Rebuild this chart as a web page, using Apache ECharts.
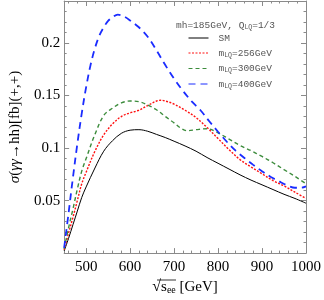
<!DOCTYPE html>
<html><head><meta charset="utf-8">
<script src="https://cdn.jsdelivr.net/npm/echarts@6/dist/echarts.min.js"></script>
<style>html,body{margin:0;padding:0;background:#fff}#c{width:324px;height:300px}</style>
</head><body><div id="c"></div>
<script>
// ---- data ----
const smX  = [450,460,470,480,490,500,520,540,560,580,600,620,640,660,680,700,725,750,775,800,825,850,875,900,925,950,975,1000];
const smY  = [0.002,0.014,0.027,0.040,0.053,0.063,0.081,0.097,0.107,0.114,0.117,0.1175,0.116,0.113,0.110,0.1065,0.102,0.097,0.091,0.0855,0.080,0.0745,0.0695,0.065,0.0605,0.056,0.052,0.0475];
const lq256X = [450,460,470,480,490,500,520,540,560,580,600,620,640,660,670,680,700,725,750,775,800,825,850,875,900,925,950,975,1000];
const lq256Y = [0.003,0.019,0.034,0.050,0.066,0.077,0.097,0.1125,0.123,0.130,0.1335,0.136,0.1405,0.1448,0.1455,0.1448,0.1418,0.136,0.129,0.1195,0.109,0.0985,0.089,0.082,0.0755,0.069,0.064,0.058,0.052];
const lq300X = [450,460,470,480,490,500,520,540,560,580,600,620,640,660,680,700,715,730,750,775,800,825,850,875,900,925,950,975,1000];
const lq300Y = [0.004,0.024,0.042,0.061,0.078,0.090,0.113,0.131,0.138,0.143,0.1448,0.1442,0.141,0.1365,0.130,0.124,0.119,0.1165,0.1175,0.1184,0.1145,0.1085,0.1025,0.0975,0.092,0.086,0.0795,0.073,0.066];
const lq400X = [450,460,470,480,490,500,510,520,530,540,550,560,572,585,600,620,640,660,680,700,720,740,760,780,800,820,840,860,880,900,920,940,960,975,990,1000];
const lq400Y = [0.005,0.038,0.072,0.104,0.133,0.158,0.179,0.195,0.207,0.215,0.221,0.2245,0.227,0.2255,0.2215,0.215,0.206,0.193,0.179,0.166,0.1545,0.1445,0.136,0.1255,0.1155,0.106,0.0975,0.0905,0.084,0.078,0.0725,0.068,0.064,0.0622,0.0623,0.0635];
const xTicks = [500,600,700,800,900,1000];
const yTicks = [0.05,0.1,0.15,0.2];
const seriesNames = ['SM','m_LQ=256GeV','m_LQ=300GeV','m_LQ=400GeV'];
// ---- chart ----
const xMinor=[]; for(let v=460; v<1000; v+=20){ if(v%100!==0) xMinor.push(v); }
const yMinor=[]; for(let i=1;i<24;i++){ if(i%5!==0) yMinor.push(+(i*0.01).toFixed(2)); }
const frame='#8a8a8a';
const serif='Liberation Serif';
const mono='Liberation Mono';
function xa(pos,vals,len,line,labels){
  return {type:'value',min:450,max:1000,position:pos,
    axisLine:{show:line,onZero:false,lineStyle:{color:frame,width:1}},
    axisTick:{show:true,inside:true,length:len,customValues:vals,lineStyle:{color:frame}},
    axisLabel:labels?{show:true,customValues:vals,color:'#000',fontFamily:serif,fontSize:15,margin:6,formatter:v=>String(v)}:{show:false},
    splitLine:{show:false}};
}
function ya(pos,vals,len,line,labels){
  return {type:'value',min:0,max:0.24,position:pos,
    axisLine:{show:line,onZero:false,lineStyle:{color:frame,width:1}},
    axisTick:{show:true,inside:true,length:len,customValues:vals,lineStyle:{color:frame}},
    axisLabel:labels?{show:true,customValues:vals,color:'#000',fontFamily:serif,fontSize:15,margin:4,formatter:v=>String(+v.toFixed(2))}:{show:false},
    splitLine:{show:false}};
}
const xAx=[xa('bottom',xTicks,5,true,true),xa('bottom',xMinor,2.5,false,false),xa('top',xTicks,5,true,false),xa('top',xMinor,2.5,false,false)];
const yAx=[ya('left',yTicks,5,true,true),ya('left',yMinor,2.5,false,false),ya('right',yTicks,5,true,false),ya('right',yMinor,2.5,false,false)];
xAx[0].name='{r|√}{s|s}{b|ee}{g| [GeV]}';
xAx[0].nameLocation='middle'; xAx[0].nameGap=22;
xAx[0].nameTextStyle={fontFamily:serif,color:'#000',rich:{
  r:{fontFamily:serif,fontSize:16,color:'#000'},
  s:{fontFamily:serif,fontSize:15,color:'#000'},
  b:{fontFamily:serif,fontSize:10,color:'#000',verticalAlign:'bottom',padding:[6,0,0,0]},
  g:{fontFamily:serif,fontSize:15,color:'#000'}}};
yAx[0].name='{i|σ}{n|(}{i|γγ}{n|→hh)[fb](+,+)}';
yAx[0].nameLocation='middle'; yAx[0].nameGap=31;
yAx[0].nameTextStyle={fontFamily:serif,color:'#000',rich:{
  i:{fontFamily:serif,fontStyle:'italic',fontSize:15,color:'#000'},
  n:{fontFamily:serif,fontSize:15,color:'#000'}}};
function pairs(xs,ys){return xs.map((x,i)=>[x,ys[i]]);}
const styles=[
  {color:'#000000',width:1,type:'solid'},
  {color:'#ff1010',width:1.4,type:[2,1.5]},
  {color:'#3c8c3c',width:1.4,type:[4,3]},
  {color:'#1a2cff',width:1.8,type:[7,5]}];
const dataSets=[pairs(smX,smY),pairs(lq256X,lq256Y),pairs(lq300X,lq300Y),pairs(lq400X,lq400Y)];
const series=seriesNames.map((n,i)=>({name:n,type:'line',data:dataSets[i],smooth:0.35,showSymbol:false,symbol:'none',
  lineStyle:styles[i],itemStyle:{color:styles[i].color},z:2+i}));
const legRich={a:{fontFamily:mono,fontSize:9.5,fontWeight:'normal',color:'#555'},
  s:{fontFamily:mono,fontSize:6.5,fontWeight:'normal',color:'#555',verticalAlign:'bottom',padding:[4,0,0,0]}};
const chart=echarts.init(document.getElementById('c'),null,{renderer:'canvas'});
chart.setOption({
  animation:false,
  backgroundColor:'#fff',
  grid:{left:51,right:16,top:1,bottom:42,containLabel:false},
  xAxis:xAx, yAxis:yAx, series:series,
  title:{text:'{a|mh=185GeV, Q}{s|LQ}{a|=1/3}',left:176,top:20,padding:0,
    textStyle:{fontWeight:'normal',rich:legRich}},
  legend:{orient:'vertical',left:188,top:33,itemWidth:20,itemHeight:8,itemGap:5,padding:0,
    data:seriesNames,
    itemStyle:{opacity:0},
    lineStyle:{width:1},
    formatter:n=>n==='SM'?'{a|SM}':'{a|m}{s|LQ}{a|'+n.slice(4)+'}',
    textStyle:{fontWeight:'normal',padding:[0,0,0,5],rich:legRich}},
  graphic:[{type:'line',shape:{x1:157,y1:280,x2:176,y2:280},style:{stroke:'#000',lineWidth:0.8}}]
});
</script></body></html>
